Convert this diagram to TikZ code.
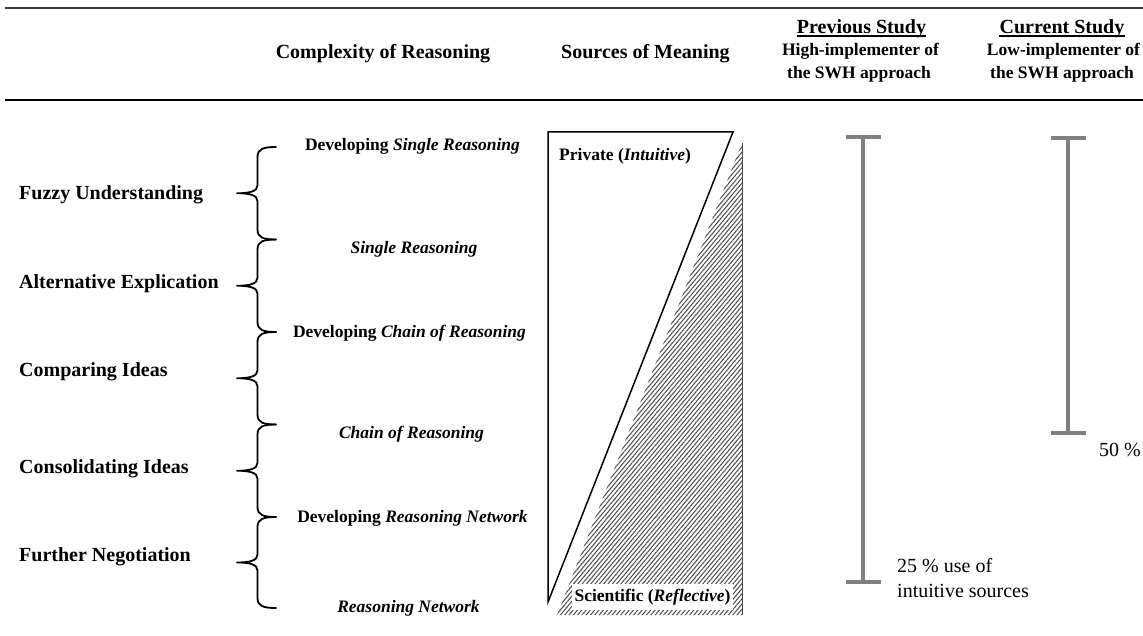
\documentclass[tikz,border=0pt]{standalone}
\usepackage{fontspec}
\setmainfont{Liberation Serif}
\usetikzlibrary{patterns.meta}
\definecolor{barg}{HTML}{808080}
\definecolor{hatchc}{HTML}{4A4A4A}
\definecolor{rulec}{HTML}{404040}
\begin{document}
\begin{tikzpicture}[x=1pt,y=-1pt,
  leftlab/.style={font=\fontsize{20}{24}\selectfont\bfseries, inner sep=0pt, anchor=base west},
  rightlab/.style={font=\fontsize{17.5}{21}\selectfont\bfseries, inner sep=0pt, anchor=base},
  headlab/.style={font=\fontsize{20}{24}\selectfont\bfseries, inner sep=0pt, anchor=base},
  sublab/.style={font=\fontsize{17.5}{21}\selectfont\bfseries, inner sep=0pt, anchor=base},
  numlab/.style={font=\fontsize{20}{25}\selectfont, inner sep=0pt, anchor=base west},
  barline/.style={draw=barg, line width=4.5pt},
  barcap/.style={draw=barg, line width=3.5pt},
  bracepath/.style={draw, line width=1.8pt, line cap=round, line join=round},
  tablerule/.style={draw=rulec, line width=2pt}
]
\useasboundingbox[fill=white] (0,0) rectangle (1143,636);

% table rules
\coordinate (rt1) at (5,8.5);
\coordinate (rt2) at (1143,8.5);
\coordinate (rb1) at (5,100);
\coordinate (rb2) at (1143,100);
\draw[tablerule] (rt1) -- (rt2);
\draw[draw=black, line width=2.2pt] (rb1) -- (rb2);

% headers
\node[headlab] (hcr) at (383,58.5) {Complexity of Reasoning};
\node[headlab] (hsm) at (645.5,58.5) {Sources of Meaning};
\node[headlab] (hps) at (861.5,33.5) {Previous Study};
\node[headlab] (hcs) at (1062,33.5) {Current Study};
\draw[line width=1.2pt] ([yshift=-2.5pt]hps.base west) -- ([yshift=-2.5pt]hps.base east);
\draw[line width=1.2pt] ([yshift=-2.5pt]hcs.base west) -- ([yshift=-2.5pt]hcs.base east);
\node[sublab] (hps1) at (860.5,55.8) {High-implementer of};
\node[sublab] (hps2) at (859,78.8) {the SWH approach};
\node[sublab] (hcs1) at (1063.5,55.8) {Low-implementer of};
\node[sublab] (hcs2) at (1062,78.8) {the SWH approach};

% left labels
\node[leftlab] (l1) at (19,199.5) {Fuzzy Understanding};
\node[leftlab] (l2) at (19,288.5) {Alternative Explication};
\node[leftlab] (l3) at (19,376.5) {Comparing Ideas};
\node[leftlab] (l4) at (19,473.5) {Consolidating Ideas};
\node[leftlab] (l5) at (19,561.5) {Further Negotiation};

% braces
\foreach \T/\B in {147/239.5, 239.5/332, 332/424.5, 424.5/517, 517/608}{
  \pgfmathsetmacro{\M}{(\T+\B)/2}
  \draw[bracepath] (276,\T) .. controls (263,\T) and (257.5,{\T+2}) .. (257.5,{\T+10})
    -- (257.5,{\M-8}) .. controls (257.5,{\M-2}) and (250,\M) .. (237,\M)
    .. controls (250,\M) and (257.5,{\M+2}) .. (257.5,{\M+8})
    -- (257.5,{\B-10}) .. controls (257.5,{\B-2}) and (263,\B) .. (276,\B);
}

% right labels
\node[rightlab] (r1) at (412.5,150.8) {Developing \textit{Single Reasoning}};
\node[rightlab] (r2) at (414,253.8) {\textit{Single Reasoning}};
\node[rightlab] (r3) at (409.5,337.8) {Developing \textit{Chain of Reasoning}};
\node[rightlab] (r4) at (411.5,438.8) {\textit{Chain of Reasoning}};
\node[rightlab] (r5) at (412.5,522.8) {Developing \textit{Reasoning Network}};
\node[rightlab] (r6) at (408.5,612.8) {\textit{Reasoning Network}};

% sources of meaning triangles
\coordinate (pa) at (548,132);
\coordinate (pb) at (733,132);
\coordinate (pc) at (548,602);
\coordinate (sa) at (742,143);
\coordinate (sb) at (742,615);
\coordinate (sc) at (557,615);
\path[pattern={Lines[angle=50,distance=3.3pt,line width=1pt]}, pattern color=hatchc] (sa) -- (sb) -- (sc) -- cycle;
\draw[draw=hatchc, line width=0.8pt] (sa) -- (sb);
\draw[line width=1.5pt, line join=miter] (pa) -- (pb) -- (pc) -- cycle;
\node[rightlab, anchor=base west] (priv) at (559,160.8) {Private (\textit{Intuitive})};
\node[fill=white, inner sep=0pt, minimum width=161pt, minimum height=26pt,
      font=\fontsize{17.5}{21}\selectfont\bfseries] (sci) at (652.5,597) {Scientific (\textit{Reflective})};

% error bars
\coordinate (pt) at (863,137);
\coordinate (pbm) at (863,582);
\coordinate (ct) at (1068,138);
\coordinate (cbm) at (1068,433);
\draw[barline] (pt) -- (pbm);
\draw[barcap] ([xshift=-17.5pt]pt) -- ([xshift=17.5pt]pt);
\draw[barcap] ([xshift=-17.5pt]pbm) -- ([xshift=17.5pt]pbm);
\draw[barline] (ct) -- (cbm);
\draw[barcap] ([xshift=-17.5pt]ct) -- ([xshift=17.5pt]ct);
\draw[barcap] ([xshift=-17.5pt]cbm) -- ([xshift=17.5pt]cbm);

\node[numlab] (n50) at (1099,456.5) {50 \%};
\node[numlab] (n25a) at (897,572.5) {25 \% use of};
\node[numlab] (n25b) at (897,597.5) {intuitive sources};
\end{tikzpicture}
\end{document}
